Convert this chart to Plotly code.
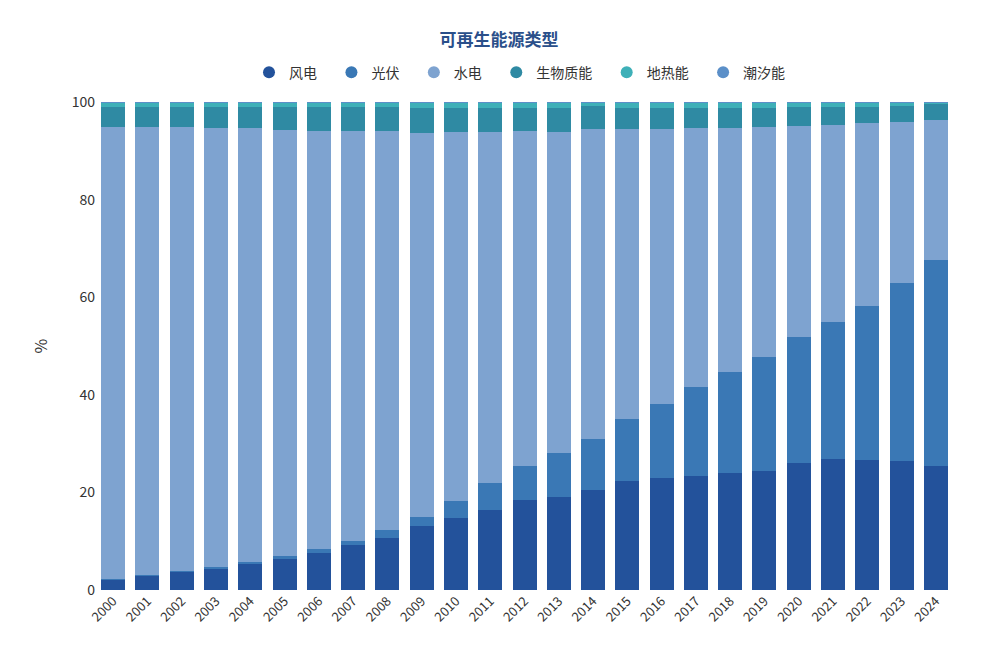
import plotly.graph_objects as go

years = [str(y) for y in range(2000, 2025)]

# shares in %
wind = [2.2, 2.9, 3.7, 4.5, 5.5, 6.3, 7.5, 9.2, 10.7, 13.1, 14.7, 16.4, 18.4, 19.0, 20.5,
        22.3, 23.0, 23.4, 24.0, 24.4, 26.0, 26.8, 26.6, 26.4, 25.4]
solar = [0.05, 0.1, 0.1, 0.2, 0.3, 0.6, 1.0, 0.8, 1.6, 1.9, 3.5, 5.6, 7.1, 9.0, 10.5,
         12.7, 15.2, 18.2, 20.6, 23.3, 25.8, 28.2, 31.7, 36.6, 42.2]
hydro = [92.6, 91.8, 91.0, 90.0, 88.8, 87.4, 85.6, 84.0, 81.7, 78.7, 75.7, 71.8, 68.5, 65.9, 63.5,
         59.5, 56.2, 53.1, 50.1, 47.1, 43.2, 40.2, 37.3, 33.0, 28.7]
biomass = [4.2, 4.2, 4.2, 4.3, 4.4, 4.7, 4.9, 5.0, 4.9, 5.0, 4.8, 4.9, 4.8, 4.8, 4.6,
           4.3, 4.3, 4.0, 4.0, 4.0, 3.9, 3.7, 3.4, 3.1, 3.3]
geothermal = [0.93, 0.98, 0.98, 0.98, 0.98, 0.98, 0.98, 0.98, 1.08, 1.28, 1.28, 1.28, 1.18, 1.28, 0.88,
              1.18, 1.28, 1.28, 1.28, 1.18, 1.08, 1.08, 0.98, 0.88, 0.38]
tidal = [0.02] * 25

series = [("风电", wind, "#23529b"), ("光伏", solar, "#3a78b5"), ("水电", hydro, "#7ea3d0"),
          ("生物质能", biomass, "#2f8aa3"), ("地热能", geothermal, "#3eb0b8"),
          ("潮汐能", tidal, "#5b8fc8")]

fig = go.Figure()
for name, vals, color in series:
    fig.add_trace(go.Bar(x=years, y=vals, name=name, marker_color=color,
                         marker_line_width=0, showlegend=False))
    fig.add_trace(go.Scatter(x=[None], y=[None], mode="markers", name=name + "   ",
                             marker=dict(symbol="circle", size=14, color=color)))

fig.update_layout(
    barmode="stack", bargap=0.3,
    width=982, height=645,
    paper_bgcolor="white", plot_bgcolor="white",
    font=dict(family="Noto Sans CJK SC", size=13, color="#333"),
    title=dict(text="<b>可再生能源类型</b>", x=0.5, y=0.95, yanchor="middle", xanchor="center",
               font=dict(size=17, color="#2a4f8a")),
    legend=dict(orientation="h", x=0.5, xanchor="center", y=1.06, yanchor="middle",
                font=dict(size=14), itemsizing="constant", traceorder="normal"),
    margin=dict(l=88, r=37, t=94, b=63),
    xaxis=dict(tickangle=-45, showline=False, ticks="", tickfont=dict(size=13)),
    yaxis=dict(range=[0, 100], dtick=20, showgrid=False, zeroline=False,
               title=dict(text="%", standoff=20), tickfont=dict(size=14)),
)

fig.write_html("out.html")
